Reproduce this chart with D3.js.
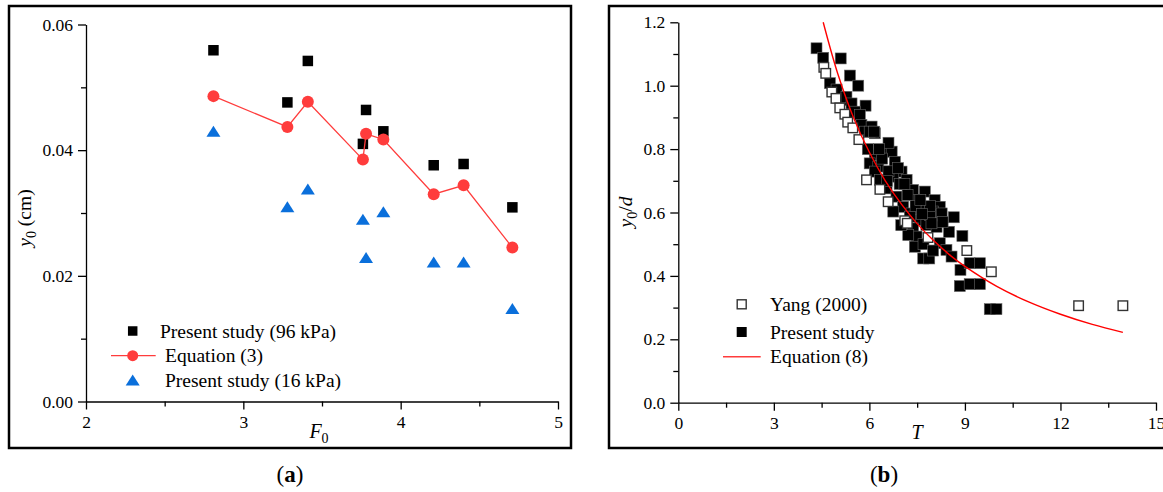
<!DOCTYPE html>
<html>
<head>
<meta charset="utf-8">
<script src="https://cdn.jsdelivr.net/npm/d3@7"></script>
<style>
body { margin: 0; background: #fff; }
svg text { font-family: "Liberation Serif", "Times New Roman", serif; fill: #000; }
</style>
</head>
<body>
<svg id="chart" width="1163" height="492"></svg>
<script>
// ---- panel (a) data
var f0 = [2.81, 3.28, 3.41, 3.76, 3.78, 3.89, 4.21, 4.40, 4.71];
var y96 = [0.0559, 0.0476, 0.0542, 0.0410, 0.0464, 0.0430, 0.0376, 0.0378, 0.0309];
var yEq3 = [0.0486, 0.0437, 0.0477, 0.0385, 0.0426, 0.0417, 0.0330, 0.0344, 0.0245];
var y16 = [0.0430, 0.0310, 0.0338, 0.0290, 0.0229, 0.0302, 0.0222, 0.0222, 0.0148];
var xTicksA = [2, 3, 4, 5];
var xMinorA = [2.5, 3.5, 4.5];
var yTicksA = [0, 0.02, 0.04, 0.06];
var yMinorA = [0.01, 0.03, 0.05];
var legendA = ["Present study (96 kPa)", "Equation (3)", "Present study (16 kPa)"];

// ---- panel (b) data
var yangT = [4.57, 4.63, 4.82, 4.95, 5.07, 5.23, 5.32, 5.48, 5.67, 5.91, 6.33, 6.59, 7.11, 7.19, 7.84, 9.06, 9.83, 12.57, 13.96];
var yangY = [1.058, 1.039, 0.98, 0.96, 0.93, 0.91, 0.885, 0.867, 0.83, 0.703, 0.673, 0.634, 0.574, 0.566, 0.521, 0.480, 0.413, 0.306, 0.306];
var presT = [4.34, 4.55, 5.10, 5.39, 5.65, 4.76, 4.97, 5.13, 5.28, 5.88, 5.44, 5.54, 5.70, 5.75, 5.86, 6.07, 6.17, 6.01, 6.15,
             6.43, 6.70, 6.17, 6.01, 6.28, 6.80, 7.01, 7.17, 7.37, 7.74, 8.05, 8.21, 8.00, 7.69, 7.48, 6.75, 6.54, 6.85,
             7.06, 7.32, 7.58, 7.79, 8.11, 7.37, 7.48, 6.17, 6.33, 6.75, 7.27, 7.90, 8.27, 8.65, 7.95, 8.50, 8.92, 7.22,
             7.43, 7.69, 7.88, 8.21, 8.42, 8.58, 8.86, 9.15, 9.47, 8.84, 9.15, 9.47, 9.78, 9.99, 6.60, 6.95, 7.20, 7.45, 7.90, 7.65,
             6.40, 6.90, 7.10, 7.60, 8.30, 6.60, 6.30, 7.00, 7.70, 8.00, 5.95, 6.55];
var presY = [1.118, 1.088, 1.086, 1.032, 1.000, 1.008, 0.988, 0.955, 0.965, 0.937, 0.944, 0.918, 0.908, 0.876, 0.855, 0.871, 0.850, 0.855, 0.855,
             0.792, 0.792, 0.781, 0.755, 0.745, 0.760, 0.729, 0.703, 0.671, 0.666, 0.639, 0.618, 0.603, 0.618, 0.639, 0.713, 0.676, 0.650,
             0.618, 0.597, 0.576, 0.561, 0.555, 0.550, 0.524, 0.729, 0.703, 0.603, 0.587, 0.592, 0.597, 0.585, 0.566, 0.539, 0.526, 0.529,
             0.492, 0.455, 0.455, 0.503, 0.482, 0.461, 0.419, 0.440, 0.440, 0.368, 0.374, 0.374, 0.295, 0.295, 0.730, 0.690, 0.655, 0.620, 0.620, 0.595,
             0.770, 0.740, 0.690, 0.640, 0.570, 0.820, 0.800, 0.560, 0.500, 0.480, 0.800, 0.700];
// points read along the Equation (8) curve
var eq8T = [4.55, 5, 5.5, 6, 6.5, 7, 7.5, 8, 8.5, 9, 10, 11, 12, 13, 13.96];
var eq8Y = [1.20, 1.04, 0.90, 0.79, 0.70, 0.627, 0.565, 0.513, 0.468, 0.430, 0.367, 0.318, 0.279, 0.247, 0.222];
var xTicksB = [0, 3, 6, 9, 12, 15];
var xMinorB = [1.5, 4.5, 7.5, 10.5, 13.5];
var yTicksB = [0, 0.2, 0.4, 0.6, 0.8, 1.0, 1.2];
var yMinorB = [0.1, 0.3, 0.5, 0.7, 0.9, 1.1];
var legendB = ["Yang (2000)", "Present study", "Equation (8)"];

var RED = "#ff3c3c", BLUE = "#0a6fdb";
var svg = d3.select("#chart");

// outer frames
svg.append("rect").attr("x", 9).attr("y", 6).attr("width", 562).attr("height", 442)
    .attr("fill", "none").attr("stroke", "#000").attr("stroke-width", 2.5);
svg.append("rect").attr("x", 609).attr("y", 6).attr("width", 580).attr("height", 442)
    .attr("fill", "none").attr("stroke", "#000").attr("stroke-width", 2.5);

function drawAxes(x, y, xt, xm, yt, ym, xfmt, yfmt){
  var x0 = x.range()[0], y0 = y.range()[0];
  var gx = svg.append("g").attr("transform", "translate(0," + y0 + ")")
      .call(d3.axisBottom(x).tickValues(xt).tickSize(8).tickSizeOuter(0).tickPadding(6).tickFormat(xfmt));
  svg.append("g").attr("transform", "translate(0," + y0 + ")")
      .call(d3.axisBottom(x).tickValues(xm).tickSize(5).tickSizeOuter(0).tickFormat(""))
      .select(".domain").remove();
  var gy = svg.append("g").attr("transform", "translate(" + x0 + ",0)")
      .call(d3.axisLeft(y).tickValues(yt).tickSize(8).tickSizeOuter(0).tickPadding(5).tickFormat(yfmt));
  svg.append("g").attr("transform", "translate(" + x0 + ",0)")
      .call(d3.axisLeft(y).tickValues(ym).tickSize(5).tickSizeOuter(0).tickFormat(""))
      .select(".domain").remove();
  svg.selectAll(".domain, .tick line").attr("stroke", "#000").attr("stroke-width", 1.3);
  gx.attr("font-family", null);
  gy.attr("font-family", null);
  gx.selectAll("text").attr("font-size", 17.5);
  gy.selectAll("text").attr("font-size", 17.5);
}

function sq(g, cx, cy, s, fill, stroke, sw){
  g.append("rect").attr("x", cx - s / 2).attr("y", cy - s / 2).attr("width", s).attr("height", s)
    .attr("fill", fill).attr("stroke", stroke).attr("stroke-width", sw);
}
function tri(g, cx, cy){
  g.append("path").attr("d", "M" + cx + "," + (cy - 5.5) + "L" + (cx + 7) + "," + (cy + 5.5) + "L" + (cx - 7) + "," + (cy + 5.5) + "Z")
    .attr("fill", BLUE);
}

// ================= panel (a)
var xa = d3.scaleLinear().domain([2, 5]).range([86, 558]);
var ya = d3.scaleLinear().domain([0, 0.06]).range([401.5, 24.5]);
drawAxes(xa, ya, xTicksA, xMinorA, yTicksA, yMinorA, d3.format("d"), d3.format(".2f"));

var ga = svg.append("g");
f0.forEach(function(d, i){ sq(ga, xa(d), ya(y96[i]), 10.5, "#000", "none", 0); });
f0.forEach(function(d, i){ tri(ga, xa(d), ya(y16[i])); });
var lineA = d3.line().x(function(d, i){ return xa(f0[i]); }).y(function(d){ return ya(d); });
ga.append("path").attr("d", lineA(yEq3)).attr("fill", "none").attr("stroke", RED).attr("stroke-width", 1.3);
ga.selectAll("circle.eq").data(yEq3).enter().append("circle")
    .attr("cx", function(d, i){ return xa(f0[i]); }).attr("cy", function(d){ return ya(d); })
    .attr("r", 6).attr("fill", RED);

// legend (a)
var la = svg.append("g");
sq(la, 132.7, 331, 9.5, "#000", "none", 0);
la.append("line").attr("x1", 111).attr("x2", 155.7).attr("y1", 355.7).attr("y2", 355.7).attr("stroke", RED).attr("stroke-width", 1.3);
la.append("circle").attr("cx", 132.7).attr("cy", 355.7).attr("r", 5.5).attr("fill", RED);
tri(la, 132.7, 380);
la.selectAll("text").data(legendA).enter().append("text")
    .attr("x", function(d, i){ return i == 0 ? 160 : 165; })
    .attr("y", function(d, i){ return [331, 355.7, 380][i] + 6.5; })
    .attr("font-size", 19.5).text(function(d){ return d; });

// axis titles (a)
var ta = svg.append("text").attr("x", 319).attr("y", 438).attr("text-anchor", "middle").attr("font-size", 20);
ta.append("tspan").attr("font-style", "italic").text("F");
ta.append("tspan").attr("font-size", 14).attr("dy", 5).text("0");
var tya = svg.append("text").attr("transform", "translate(31,218) rotate(-90)").attr("text-anchor", "middle").attr("font-size", 19.5);
tya.append("tspan").attr("font-style", "italic").text("y");
tya.append("tspan").attr("font-size", 14).attr("dy", 5).text("0");
tya.append("tspan").attr("dy", -5).text(" (cm)");

// ================= panel (b)
var xb = d3.scaleLinear().domain([0, 15]).range([678.3, 1156]);
var yb = d3.scaleLinear().domain([0, 1.2]).range([402.7, 22.3]);
drawAxes(xb, yb, xTicksB, xMinorB, yTicksB, yMinorB, d3.format("d"), d3.format(".1f"));

var gb = svg.append("g");
presT.forEach(function(d, i){ sq(gb, xb(d), yb(presY[i]), 11, "#000", "#666", 0.6); });
yangT.forEach(function(d, i){ sq(gb, xb(d), yb(yangY[i]), 9.5, "#fff", "#333", 1.4); });
var lineB = d3.line().curve(d3.curveCatmullRom)
    .x(function(d, i){ return xb(eq8T[i]); }).y(function(d){ return yb(d); });
gb.append("path").attr("d", lineB(eq8Y)).attr("fill", "none").attr("stroke", "#ff0000").attr("stroke-width", 1.4);

// legend (b)
var lb = svg.append("g");
sq(lb, 741.7, 304.3, 9, "#fff", "#333", 1.4);
sq(lb, 741.7, 332, 10, "#000", "none", 0);
lb.append("line").attr("x1", 723).attr("x2", 760.7).attr("y1", 356.7).attr("y2", 356.7).attr("stroke", RED).attr("stroke-width", 1.4);
lb.selectAll("text").data(legendB).enter().append("text")
    .attr("x", 770).attr("y", function(d, i){ return [304.3, 332, 356.7][i] + 6.5; })
    .attr("font-size", 19.5).text(function(d){ return d; });

// axis titles (b)
svg.append("text").attr("x", 917).attr("y", 439).attr("text-anchor", "middle").attr("font-size", 20)
    .attr("font-style", "italic").text("T");
var tyb = svg.append("text").attr("transform", "translate(632,212) rotate(-90)").attr("text-anchor", "middle").attr("font-size", 19.5);
tyb.append("tspan").attr("font-style", "italic").text("y");
tyb.append("tspan").attr("font-size", 14).attr("dy", 5).text("0");
tyb.append("tspan").attr("dy", -5).text("/");
tyb.append("tspan").attr("font-style", "italic").text("d");

// sub-figure labels
[["a", 290], ["b", 884]].forEach(function(p){
  var t = svg.append("text").attr("x", p[1]).attr("y", 482).attr("text-anchor", "middle").attr("font-size", 23);
  t.append("tspan").text("(");
  t.append("tspan").attr("font-weight", "bold").text(p[0]);
  t.append("tspan").text(")");
});
</script>
</body>
</html>
